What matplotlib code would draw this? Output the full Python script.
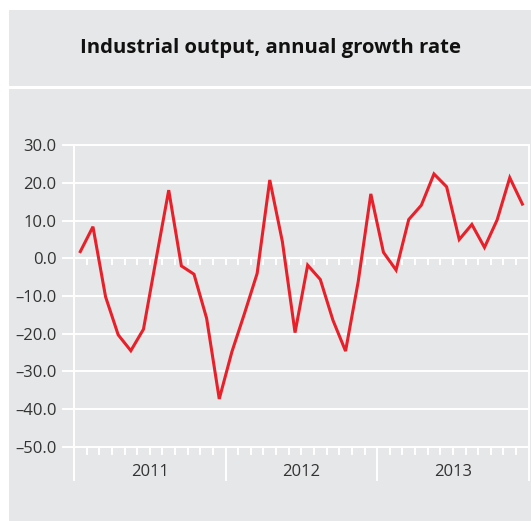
import matplotlib
matplotlib.use("Agg")
import matplotlib.pyplot as plt
from matplotlib.patches import Rectangle
import numpy as np

# ---- data ----
title = "Industrial output, annual growth rate"
years = ["2011", "2012", "2013"]
growth = [1.8, 8.4, -10.2, -20.3, -24.5, -18.8, -0.2, 18.1, -2.0, -4.2, -15.9, -37.3,
          -24.8, -14.6, -4.0, 20.8, 4.4, -19.7, -1.8, -5.6, -16.4, -24.6, -6.2, 17.1,
          1.6, -3.1, 10.3, 14.1, 22.4, 19.0, 5.0, 9.0, 2.9, 10.2, 21.4, 14.4]
yticks = [30, 20, 10, 0, -10, -20, -30, -40, -50]

W, H = 531, 521
fig = plt.figure(figsize=(W / 100, H / 100), dpi=100, facecolor="white")
gray = "#e6e7e8"

def px_rect(x0, y0, x1, y1):
    fig.patches.append(Rectangle((x0 / W, 1 - y1 / H), (x1 - x0) / W, (y1 - y0) / H,
                                 transform=fig.transFigure, facecolor=gray,
                                 edgecolor="none", zorder=-10))

px_rect(9, 10, 531, 86)
px_rect(9, 89, 531, 521)

fig.text(270 / W, 1 - 48 / H, title, ha="center", va="center",
         fontsize=14.6, fontweight="bold", family="Open Sans", color="#111111")

# axes geometry in pixels
ax_left, ax_right = 63, 528.7
y30, ybot = 145.3, 480
month_px = (528.7 - 74) / 36
unit_px = 37.7 / 10
ax = fig.add_axes([ax_left / W, 1 - ybot / H, (ax_right - ax_left) / W, (ybot - y30) / H])
ax.set_zorder(5)
ax.set_facecolor("none")
ax.set_xlim(-(74 - ax_left) / month_px, 36)
ymin = -50 - (ybot - (258.3 + 50 * unit_px)) / unit_px
ax.set_ylim(ymin, 30)
for s in ax.spines.values():
    s.set_visible(False)
ax.set_xticks([])
ax.set_yticks(yticks)
ax.set_yticklabels([f"{v:.1f}".replace("-", "\u2013") for v in yticks],
                   family="Open Sans", fontsize=12, color="#333333")
ax.tick_params(axis="y", length=0, pad=4.5)

lw = 1.4
xl = ax.get_xlim()[0]
for v in yticks:
    ax.plot([xl, 36], [v, v], color="white", lw=lw, clip_on=False, zorder=1)
# axis frame lines
ax.plot([0, 0], [30, ymin], color="white", lw=lw, clip_on=False, zorder=1)
ax.plot([36, 36], [30, ymin], color="white", lw=lw, clip_on=False, zorder=1)
for b in [12, 24]:
    ax.plot([b, b], [-50, ymin], color="white", lw=lw, clip_on=False, zorder=1)
# month ticks
for m in range(1, 36):
    ax.plot([m, m], [0, -6 / unit_px], color="white", lw=lw, clip_on=False, zorder=1)
    ax.plot([m, m], [-50, -50 - 7 / unit_px], color="white", lw=lw, clip_on=False, zorder=1)

x = np.arange(len(growth)) + 0.5
ax.plot(x, growth, color="#e8202a", lw=2.2, clip_on=False, zorder=3,
        solid_joinstyle="miter")

for i, yr in enumerate(years):
    ax.text(12 * i + 6, -50 - (471.7 - 446.7) / unit_px, yr, ha="center", va="center",
            family="Open Sans", fontsize=12, color="#333333")

fig.savefig("out.png", dpi=100, facecolor="white")
